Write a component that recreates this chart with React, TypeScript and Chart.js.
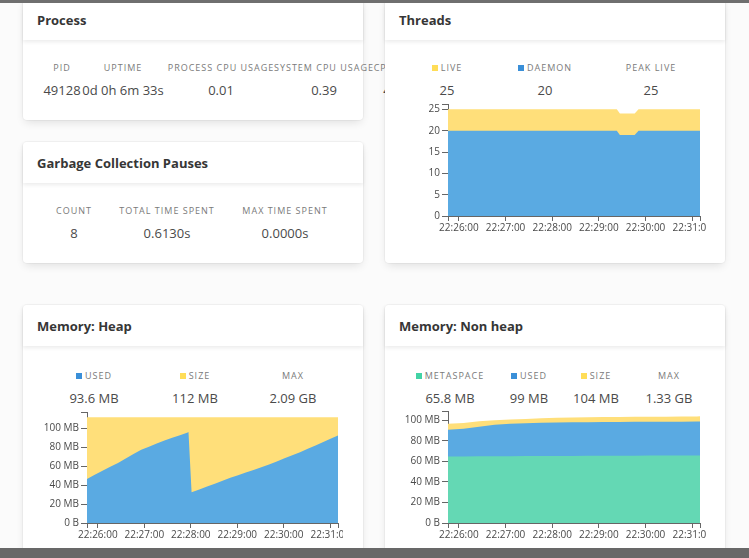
import React, { useEffect, useRef } from 'react';
import { Chart, registerables } from 'chart.js';

Chart.register(...registerables);

const FONT = '"Open Sans", "DejaVu Sans", sans-serif';

// ---------- Stats ----------
const processLabels = ['PID', 'UPTIME', 'PROCESS CPU USAGE', 'SYSTEM CPU USAGE', 'CPUS'];
const processValues = ['49128', '0d 0h 6m 33s', '0.01', '0.39', '4'];

const gcLabels = ['COUNT', 'TOTAL TIME SPENT', 'MAX TIME SPENT'];
const gcValues = ['8', '0.6130s', '0.0000s'];

const threadLabels = ['LIVE', 'DAEMON', 'PEAK LIVE'];
const threadValues = ['25', '20', '25'];

const heapLabels = ['USED', 'SIZE', 'MAX'];
const heapValues = ['93.6 MB', '112 MB', '2.09 GB'];

const nonHeapLabels = ['METASPACE', 'USED', 'SIZE', 'MAX'];
const nonHeapValues = ['65.8 MB', '99 MB', '104 MB', '1.33 GB'];

// ---------- Time axis ----------
const axisStart = '22:25:46';
const axisEnd = '22:31:10';
const timeTicks = ['22:26:00', '22:27:00', '22:28:00', '22:29:00', '22:30:00', '22:31:00'];

// ---------- Threads ----------
const threadTimes = ['22:25:46', '22:29:23', '22:29:27', '22:29:46', '22:29:51', '22:31:10'];
const threadLive = [25, 25, 24, 24, 25, 25];
const threadDaemon = [20, 20, 19, 19, 20, 20];
const threadTickValues = [0, 5, 10, 15, 20, 25];
const threadTickLabels = ['0', '5', '10', '15', '20', '25'];

// ---------- Heap (MB) ----------
const heapUsedTimes = [
  '22:25:46', '22:25:56', '22:26:06', '22:26:16', '22:26:26', '22:26:36', '22:26:46',
  '22:26:56', '22:27:06', '22:27:16', '22:27:26', '22:27:36', '22:27:46', '22:27:56',
  '22:27:57', '22:28:01', '22:28:11', '22:28:21', '22:28:31', '22:28:41', '22:28:51',
  '22:29:01', '22:29:11', '22:29:21', '22:29:31', '22:29:41', '22:29:51', '22:30:01',
  '22:30:11', '22:30:21', '22:30:31', '22:30:41', '22:30:51', '22:31:01', '22:31:10',
];
const heapUsed = [
  46.5, 51, 55.3, 59.5, 63.7, 68.4, 73,
  77.5, 80.9, 84.3, 87.3, 90.2, 93.1, 96,
  96.3, 32.5, 35.6, 38.7, 41.7, 44.8, 47.9,
  50.6, 53.4, 56.2, 59.0, 62.0, 65.2, 68.5,
  71.7, 75, 78.6, 82.2, 85.8, 89.4, 92.6,
];
const heapSizeTimes = ['22:25:46', '22:31:10'];
const heapSize = [112, 112];
const heapTickValues = [0, 20, 40, 60, 80, 100];
const heapTickLabels = ['0 B', '20 MB', '40 MB', '60 MB', '80 MB', '100 MB'];

// ---------- Non heap (MB) ----------
const nonHeapTimes = [
  '22:25:46', '22:26:06', '22:26:26', '22:26:46', '22:27:06', '22:27:26', '22:27:46',
  '22:28:06', '22:28:26', '22:28:46', '22:29:06', '22:29:26', '22:29:46', '22:30:06',
  '22:30:26', '22:30:46', '22:31:06', '22:31:10',
];
const nonHeapMetaspace = [64.8, 64.9, 65.0, 65.1, 65.2, 65.3, 65.3, 65.4, 65.4, 65.5, 65.5, 65.6, 65.6, 65.7, 65.7, 65.7, 65.8, 65.8];
const nonHeapUsed = [91, 92, 93.8, 95.8, 96.7, 97.3, 97.7, 98.0, 98.2, 98.3, 98.4, 98.5, 98.6, 98.7, 98.7, 98.8, 98.9, 99];
const nonHeapSize = [96.8, 97.6, 99.2, 100.3, 100.9, 101.4, 102.1, 102.7, 102.9, 103.1, 103.3, 103.4, 103.5, 103.6, 103.7, 103.8, 103.9, 104];
const nonHeapTickValues = [0, 20, 40, 60, 80, 100];
const nonHeapTickLabels = ['0 B', '20 MB', '40 MB', '60 MB', '80 MB', '100 MB'];

// ---------- Colours ----------
const YELLOW_FILL = '#ffdf7a';
const BLUE_FILL = '#5aaae2';
const GREEN_FILL = '#64d8b4';
const YELLOW_KEY = '#ffdd57';
const BLUE_KEY = '#3a8fd8';
const GREEN_KEY = '#42d3a5';

const toSec = (s: string) => {
  const [h, m, ss] = s.split(':').map(Number);
  return h * 3600 + m * 60 + ss;
};
const fmt = (v: number) => {
  const h = Math.floor(v / 3600);
  const m = Math.floor((v % 3600) / 60);
  const s = Math.round(v % 60);
  return [h, m, s].map((n) => String(n).padStart(2, '0')).join(':');
};
const pts = (times: string[], vals: number[]) => times.map((t, i) => ({ x: toSec(t), y: vals[i] }));

type DS = { points: { x: number; y: number }[]; color: string };

function AreaChart(props: {
  left: number; top: number; width: number; height: number; yWidth: number; padRight: number;
  datasets: DS[]; yTicks: number[]; yLabels: string[];
}) {
  const ref = useRef<HTMLCanvasElement | null>(null);
  useEffect(() => {
    const { datasets, yTicks, yLabels, yWidth, padRight } = props;
    const xMin = toSec(axisStart);
    const xMax = toSec(axisEnd);
    const xTickVals = timeTicks.map(toSec);
    let dataMax = 0;
    datasets.forEach((d) => d.points.forEach((p) => { if (p.y > dataMax) dataMax = p.y; }));
    const yMax = dataMax * 1.05;
    const chart = new Chart(ref.current as HTMLCanvasElement, {
      type: 'line',
      data: {
        datasets: datasets.map((d) => ({
          data: d.points,
          fill: 'origin',
          backgroundColor: d.color,
          borderWidth: 0,
          borderColor: d.color,
          pointRadius: 0,
          tension: 0,
        })),
      },
      options: {
        responsive: false,
        animation: false,
        events: [],
        layout: { padding: { top: 4, right: padRight, left: 0, bottom: 0 } },
        plugins: { legend: { display: false }, tooltip: { enabled: false } },
        scales: {
          x: {
            type: 'linear',
            min: xMin,
            max: xMax,
            afterBuildTicks: (s: any) => {
              s.ticks = [xMin, ...xTickVals, xMax].map((v) => ({ value: v }));
            },
            afterFit: (s: any) => {
              s.height = 20;
              s.paddingLeft = 0;
              s.paddingRight = 0;
            },
            ticks: {
              autoSkip: false,
              maxRotation: 0,
              minRotation: 0,
              padding: 1,
              color: '#4a4a4a',
              font: { family: FONT, size: 10 },
              callback: (v: any) => (v === xMin || v === xMax ? '' : fmt(Number(v))),
            },
            grid: { drawOnChartArea: false, drawTicks: true, tickLength: 5, color: '#666' },
            border: { display: true, color: '#666' },
          },
          y: {
            type: 'linear',
            min: 0,
            max: yMax,
            afterBuildTicks: (s: any) => {
              s.ticks = [...yTicks, yMax].map((v) => ({ value: v }));
            },
            afterFit: (s: any) => {
              s.width = yWidth;
              s.paddingTop = 0;
              s.paddingBottom = 0;
            },
            ticks: {
              padding: 2,
              color: '#4a4a4a',
              font: { family: FONT, size: 10 },
              callback: (v: any) => {
                const i = yTicks.indexOf(Number(v));
                return i >= 0 ? yLabels[i] : '';
              },
            },
            grid: { drawOnChartArea: false, drawTicks: true, tickLength: 6, color: '#666' },
            border: { display: true, color: '#666' },
          },
        },
      } as any,
    });
    return () => chart.destroy();
  }, []);
  return (
    <canvas
      ref={ref}
      width={props.width}
      height={props.height}
      style={{ position: 'absolute', left: props.left, top: props.top, width: props.width, height: props.height }}
    />
  );
}

function Card({ left, top, width, height, title }: { left: number; top: number; width: number; height: number; title: string }) {
  return (
    <div
      style={{
        position: 'absolute', left, top, width, height, background: '#fff', borderRadius: 4,
        boxShadow: '0 4px 10px -2px rgba(10,10,10,0.12), 0 0 0 1px rgba(10,10,10,0.03)',
      }}
    >
      <div
        style={{
          height: 41, boxSizing: 'border-box', padding: '0 14px', display: 'flex', alignItems: 'center',
          fontWeight: 700, fontSize: 13, color: '#363636', boxShadow: '0 2px 4px rgba(10,10,10,0.08)',
        }}
      >
        {title}
      </div>
    </div>
  );
}

function Stat({ cx, top, label, value, swatch }: { cx: number; top: number; label: string; value: string; swatch?: string }) {
  return (
    <div style={{ position: 'absolute', left: cx - 90, width: 180, top, textAlign: 'center', whiteSpace: 'nowrap' }}>
      <div style={{ fontSize: 9, letterSpacing: 1, color: '#7a7a7a', lineHeight: '12px', height: 12 }}>
        {swatch ? (
          <span
            style={{ display: 'inline-block', width: 6, height: 6, background: swatch, marginRight: 3, position: 'relative', top: 0 }}
          />
        ) : null}
        {label}
      </div>
      <div style={{ fontSize: 13, color: '#4a4a4a', lineHeight: '18px', marginTop: 7 }}>{value}</div>
    </div>
  );
}

export default function App() {
  const processCx = [62, 123, 221, 324, 387];
  const gcCx = [74, 167, 285];
  const threadCx = [447, 545, 651];
  const threadKeys = [YELLOW_KEY, BLUE_KEY, undefined];
  const heapCx = [94, 195, 293];
  const heapKeys = [BLUE_KEY, YELLOW_KEY, undefined];
  const nonHeapCx = [450, 529, 596, 669];
  const nonHeapKeys = [GREEN_KEY, BLUE_KEY, YELLOW_KEY, undefined];

  return (
    <div
      style={{
        position: 'fixed', left: 0, top: 0, width: 749, height: 558, overflow: 'hidden',
        background: '#fbfbfb', fontFamily: FONT,
      }}
    >
      <Card left={23} top={-1} width={340} height={121} title="Process" />
      {processLabels.map((l, i) => (
        <Stat key={l} cx={processCx[i]} top={62} label={l} value={processValues[i]} />
      ))}

      <Card left={23} top={142} width={340} height={121} title="Garbage Collection Pauses" />
      {gcLabels.map((l, i) => (
        <Stat key={l} cx={gcCx[i]} top={205} label={l} value={gcValues[i]} />
      ))}

      <Card left={385} top={-1} width={340} height={264} title="Threads" />
      {threadLabels.map((l, i) => (
        <Stat key={l} cx={threadCx[i]} top={62} label={l} value={threadValues[i]} swatch={threadKeys[i]} />
      ))}
      <AreaChart
        left={418} top={100} width={288} height={136} yWidth={30} padRight={6}
        datasets={[
          { points: pts(threadTimes, threadDaemon), color: BLUE_FILL },
          { points: pts(threadTimes, threadLive), color: YELLOW_FILL },
        ]}
        yTicks={threadTickValues} yLabels={threadTickLabels}
      />

      <Card left={23} top={305} width={340} height={270} title="Memory: Heap" />
      {heapLabels.map((l, i) => (
        <Stat key={l} cx={heapCx[i]} top={370} label={l} value={heapValues[i]} swatch={heapKeys[i]} />
      ))}
      <AreaChart
        left={32} top={408} width={311} height={135} yWidth={55} padRight={5}
        datasets={[
          { points: pts(heapUsedTimes, heapUsed), color: BLUE_FILL },
          { points: pts(heapSizeTimes, heapSize), color: YELLOW_FILL },
        ]}
        yTicks={heapTickValues} yLabels={heapTickLabels}
      />

      <Card left={385} top={305} width={340} height={270} title="Memory: Non heap" />
      {nonHeapLabels.map((l, i) => (
        <Stat key={l} cx={nonHeapCx[i]} top={370} label={l} value={nonHeapValues[i]} swatch={nonHeapKeys[i]} />
      ))}
      <AreaChart
        left={393} top={407} width={313} height={136} yWidth={55} padRight={6}
        datasets={[
          { points: pts(nonHeapTimes, nonHeapMetaspace), color: GREEN_FILL },
          { points: pts(nonHeapTimes, nonHeapUsed), color: BLUE_FILL },
          { points: pts(nonHeapTimes, nonHeapSize), color: YELLOW_FILL },
        ]}
        yTicks={nonHeapTickValues} yLabels={nonHeapTickLabels}
      />

      <div style={{ position: 'absolute', left: 0, top: 0, width: 749, height: 3, background: '#6f6f6f' }} />
      <div style={{ position: 'absolute', left: 0, top: 548, width: 749, height: 10, background: '#686868' }} />
    </div>
  );
}
